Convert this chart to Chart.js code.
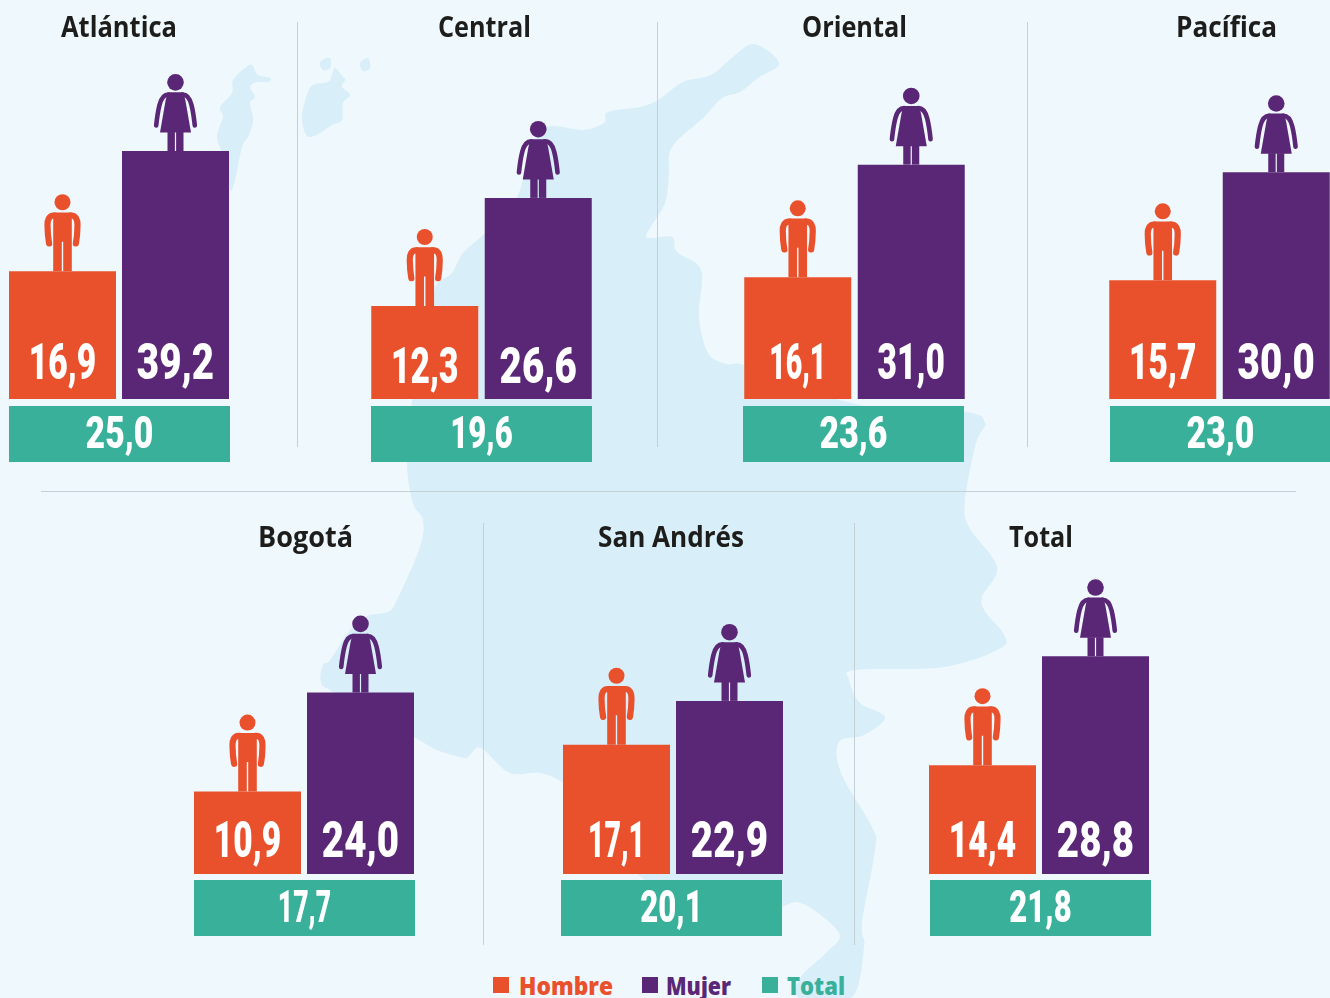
<!DOCTYPE html>
<html lang="es"><head><meta charset="utf-8"><title>Regiones</title>
<script src="https://cdn.jsdelivr.net/npm/chart.js@4"></script>
<style>
html,body{margin:0;padding:0;background:#eff8fc;width:1330px;height:998px;overflow:hidden}
#map{position:absolute;left:0;top:0}
canvas{position:absolute}
.rule{position:absolute;background:#c4d0d6}
.sw{position:absolute;width:16px;height:16px;top:977px}
.lg{position:absolute;top:968px;font:800 25px/34px "Open Sans",sans-serif;transform-origin:0 0;white-space:nowrap}
</style></head><body>
<svg id="map" width="1330" height="998"></svg>
<script>
// ---- data ----
const regiones = ['Atlántica','Central','Oriental','Pacífica','Bogotá','San Andrés','Total'];
const seriesNames = ['Hombre','Mujer'];
const hombre = [16.9,12.3,16.1,15.7,10.9,17.1,14.4];
const mujer  = [39.2,26.6,31.0,30.0,24.0,22.9,28.8];
const total  = [25.0,19.6,23.6,23.0,17.7,20.1,21.8];
// The reference prints 39,2 for Atlántica but draws that bar only as tall as 32,8; heights follow the picture.
const mujerAlturaDibujada = [32.8,26.6,31.0,30.0,24.0,22.9,28.8];

// ---- layout ----
const C = {hombre:'#e9512d',mujer:'#5a2776',total:'#39b09a',ink:'#1d1d1b',white:'#ffffff'};
const PX_PER_UNIT = 7.56;
const panels = [
 {left:6,   w:226,top:0,  h:470,area:399,gap:7,box:3,title:113,  tw:116,base:20},
 {left:368, w:227,top:0,  h:470,area:399,gap:7,box:3,title:116.5,tw:93, base:16},
 {left:741, w:227,top:0,  h:470,area:399,gap:7,box:2,title:113.5,tw:105,base:20},
 {left:1106,w:227,top:0,  h:470,area:399,gap:7,box:4,title:120.5,tw:101,base:20},
 {left:191, w:226,top:510,h:430,area:364,gap:6,box:3,title:114.5,tw:95, base:17},
 {left:560, w:226,top:510,h:430,area:364,gap:6,box:1,title:111,  tw:146,base:17},
 {left:926, w:226,top:510,h:430,area:364,gap:6,box:4,title:115,  tw:64, base:17}
];
const rules = [[297,22,1,425],[657,22,1,425],[1027,22,1,425],[41,491,1255,1],[483,523,1,422],[854,523,1,422]];
const legend = [['Hombre',C.hombre,493,519,94],['Mujer',C.mujer,642,666,65],['Total',C.total,762,787,58]];

// ---- decorative map behind the charts ----
const shapes = [
 [[407,463],[412,400],[420,340],[435,288],[452,273],[463,253],[485,233],[517,197],[530,150],[547,127],[583,130],[604,123],[608,112],[640,107],[658,100],[683,82],[711,75],[733,57],[754,44],[779,63],[758,78],[740,92],[722,98],[704,117],[672,147],[669,173],[665,203],[647,233],[651,238],[672,237],[677,252],[701,270],[699,317],[708,353],[726,364],[744,365],[800,385],[865,406],[965,412],[985,423],[976,443],[965,500],[969,527],[997,567],[982,597],[986,613],[1003,633],[1001,648],[944,667],[856,670],[849,680],[860,703],[885,717],[864,735],[839,742],[841,773],[872,827],[875,850],[862,923],[864,947],[851,998],[800,998],[801,977],[826,953],[839,933],[801,903],[770,908],[700,895],[641,877],[600,810],[548,775],[510,773],[481,748],[468,757],[460,757],[437,750],[414,737],[333,692],[321,682],[323,665],[330,660],[350,630],[367,616],[388,612],[397,600],[420,547],[423,520],[413,503]],
 [[252,65],[258,75],[270,78],[268,82],[257,82],[250,87],[255,97],[250,103],[253,120],[248,137],[242,147],[235,180],[230,190],[225,160],[217,137],[223,117],[220,107],[232,93],[233,80],[245,68]],
 [[330,58],[320,62],[323,70],[330,68]],
 [[368,58],[360,63],[363,71],[370,68]],
 [[335,68],[343,77],[345,80],[342,87],[350,95],[343,103],[342,120],[332,125],[320,133],[309,137],[304,130],[302,115],[307,95],[313,85],[328,82],[332,75]]
];
function smooth(p){
  let d='M'+p[0][0]+' '+p[0][1]; const n=p.length;
  for(let i=0;i<n;i++){
    const a=p[(i-1+n)%n],b=p[i],c=p[(i+1)%n],e=p[(i+2)%n];
    d+=' C'+(b[0]+(c[0]-a[0])/6).toFixed(1)+' '+(b[1]+(c[1]-a[1])/6).toFixed(1)+' '+(c[0]-(e[0]-b[0])/6).toFixed(1)+' '+(c[1]-(e[1]-b[1])/6).toFixed(1)+' '+c[0]+' '+c[1];
  }
  return d+'Z';
}
document.getElementById('map').innerHTML = shapes.map(s=>'<path fill="#d8eef9" d="'+smooth(s)+'"/>').join('');

rules.forEach(r=>{const d=document.createElement('div');d.className='rule';d.style.cssText=`left:${r[0]}px;top:${r[1]}px;width:${r[2]}px;height:${r[3]}px`;document.body.appendChild(d);});

legend.forEach(l=>{
  const s=document.createElement('div');s.className='sw';s.style.left=l[2]+'px';s.style.background=l[1];document.body.appendChild(s);
  const t=document.createElement('div');t.className='lg';t.textContent=l[0];t.style.left=l[3]+'px';t.style.color=l[1];document.body.appendChild(t);
  t.style.transform='scaleX('+(l[4]/t.getBoundingClientRect().width)+')';
});

// ---- pictograms, standing on top of each bar ----
function man(ctx,x,y,col){
  ctx.save();ctx.translate(x,y);ctx.fillStyle=col;ctx.strokeStyle=col;
  ctx.beginPath();ctx.arc(0,-69,8,0,Math.PI*2);ctx.fill();
  ctx.beginPath();ctx.moveTo(-9.3,0);ctx.lineTo(-9.3,-58.7);ctx.lineTo(9.3,-58.7);ctx.lineTo(9.3,0);ctx.lineTo(0.7,0);ctx.lineTo(0.7,-29.5);ctx.lineTo(-0.7,-29.5);ctx.lineTo(-0.7,0);ctx.closePath();ctx.fill();
  ctx.lineWidth=6.2;ctx.lineCap='round';
  [-1,1].forEach(s=>{ctx.beginPath();ctx.moveTo(s*8,-55.7);ctx.bezierCurveTo(s*13.5,-56.2,s*15.2,-51,s*15,-46);ctx.quadraticCurveTo(s*14.9,-36,s*13.4,-27.8);ctx.stroke();});
  ctx.restore();
}
function woman(ctx,x,y,col){
  ctx.save();ctx.translate(x,y);ctx.fillStyle=col;ctx.strokeStyle=col;
  ctx.beginPath();ctx.arc(0,-68.7,8.3,0,Math.PI*2);ctx.fill();
  ctx.beginPath();ctx.moveTo(-8,-58.7);ctx.lineTo(8,-58.7);ctx.lineTo(10,-50);ctx.lineTo(15.5,-18.5);ctx.lineTo(-15.5,-18.5);ctx.lineTo(-10,-50);ctx.closePath();ctx.fill();
  ctx.fillRect(-8,-19,7.4,19);ctx.fillRect(0.6,-19,7.4,19);
  ctx.lineWidth=4.6;ctx.lineCap='round';
  [-1,1].forEach(s=>{ctx.beginPath();ctx.moveTo(s*7,-56.5);ctx.bezierCurveTo(s*13,-56.5,s*15,-50,s*16,-46);ctx.quadraticCurveTo(s*18,-38,s*19.3,-25.5);ctx.stroke();});
  ctx.restore();
}
function condensed(ctx,text,cx,y,size,sx,col){
  ctx.save();ctx.fillStyle=col;ctx.font=`900 ${size}px Roboto,sans-serif`;ctx.textAlign='center';ctx.textBaseline='alphabetic';
  ctx.translate(cx,y);ctx.scale(sx,1);ctx.fillText(text,0,0);ctx.restore();
}
const fmt = v => v.toFixed(1).replace('.',',');
// The reference's condensed face has narrow 1s and 7s, which Roboto's tabular digits lack.
const count = (s,ch) => s.split(ch).length-1;
const barSx = s => 0.77-0.10*count(s,'1');
const boxSx = s => 0.75-0.06*count(s,'1')-0.05*count(s,'7');

const panelMarks = {
  id:'panelMarks',
  afterDatasetsDraw(chart,args,o){
    const ctx=chart.ctx, i=o.index, p=panels[i], bars=chart.getDatasetMeta(0).data, bottom=chart.chartArea.bottom;
    man(ctx,bars[0].x,bars[0].y,C.hombre);
    woman(ctx,bars[1].x,bars[1].y,C.mujer);
    const h=fmt(hombre[i]), m=fmt(mujer[i]), t=fmt(total[i]);
    condensed(ctx,h,bars[0].x,bottom-p.base,50,barSx(h),C.white);
    condensed(ctx,m,bars[1].x,bottom-p.base,50,barSx(m),C.white);
    ctx.fillStyle=C.total;ctx.fillRect(p.box,bottom+p.gap,221,56);
    condensed(ctx,t,p.box+110.5,bottom+p.gap+42,45,boxSx(t),C.white);
    ctx.save();ctx.font='700 28px "Open Sans",sans-serif';ctx.fillStyle=C.ink;ctx.textAlign='center';
    const w=ctx.measureText(regiones[i]).width;ctx.translate(p.title,37);ctx.scale(p.tw/w,1);ctx.fillText(regiones[i],0,0);ctx.restore();
  }
};

panels.forEach((p,i)=>{
  const cv=document.createElement('canvas');cv.width=p.w;cv.height=p.h;
  cv.style.left=p.left+'px';cv.style.top=p.top+'px';cv.style.width=p.w+'px';cv.style.height=p.h+'px';
  document.body.appendChild(cv);
  new Chart(cv,{
    type:'bar',
    data:{labels:seriesNames,datasets:[{label:regiones[i],data:[hombre[i],mujerAlturaDibujada[i]],backgroundColor:[C.hombre,C.mujer],borderWidth:0}]},
    plugins:[panelMarks],
    options:{
      responsive:false,animation:false,devicePixelRatio:1,
      layout:{padding:{left:0,right:0,top:0,bottom:p.h-p.area}},
      datasets:{bar:{categoryPercentage:1,barPercentage:107/(p.w/2)}},
      scales:{
        x:{display:false,grid:{display:false}},
        y:{display:false,min:0,max:p.area/PX_PER_UNIT,grid:{display:false}}
      },
      plugins:{legend:{display:false},tooltip:{enabled:false},title:{display:false},panelMarks:{index:i}}
    }
  });
});
</script>
</body></html>
